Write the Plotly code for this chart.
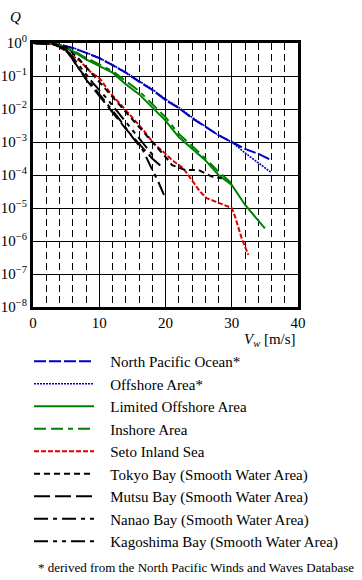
import plotly.graph_objects as go

# wind speed V_w [m/s] and log10(Q)
npo_x = [0, 2, 4, 6, 8, 10, 12, 14, 16, 18, 20, 22, 24, 26, 28, 30, 32, 34, 36]
npo_lq = [0, -0.01, -0.05, -0.15, -0.3, -0.46, -0.67, -0.9, -1.17, -1.42, -1.73, -1.97, -2.28, -2.54, -2.79, -3.0, -3.21, -3.36, -3.55]

off_x = [0, 2, 4, 6, 8, 10, 12, 14, 16, 18, 20, 22, 24, 26, 28, 30, 32, 34, 36]
off_lq = [0, -0.01, -0.05, -0.14, -0.29, -0.45, -0.66, -0.89, -1.15, -1.4, -1.7, -1.95, -2.25, -2.52, -2.8, -3.0, -3.33, -3.63, -3.93]

lim_x = [0, 2, 4, 5, 6, 8, 10, 12, 14, 16, 18, 20, 22, 24, 25, 26, 28, 30, 32, 34, 35]
lim_lq = [0, -0.01, -0.06, -0.15, -0.25, -0.5, -0.7, -0.9, -1.25, -1.55, -1.95, -2.35, -2.85, -3.2, -3.35, -3.55, -4.0, -4.3, -4.9, -5.4, -5.62]

ins_x = [0, 2, 4, 5, 6, 8, 10, 12, 14, 16, 18, 20, 22, 24, 25, 26, 28, 30]
ins_lq = [0, -0.01, -0.06, -0.14, -0.22, -0.45, -0.64, -0.85, -1.15, -1.45, -1.85, -2.25, -2.75, -3.1, -3.3, -3.5, -3.9, -4.25]

seto_x = [0, 3, 4.6, 7.1, 8.6, 10.1, 11.6, 13.1, 14.6, 16.5, 18.2, 19.7, 21, 22.7, 24, 25.2, 26.2, 28.2, 30, 30.5, 31.5, 32.5]
seto_lq = [0, -0.02, -0.2, -0.55, -0.86, -1.08, -1.5, -1.85, -2.17, -2.6, -3.04, -3.3, -3.55, -3.8, -4.15, -4.5, -4.7, -4.86, -5.0, -5.26, -5.92, -6.42]

tokyo_x = [0, 3, 5, 7, 9, 11, 13, 15, 17, 19, 20, 21, 23, 25, 26, 27, 28.5]
tokyo_lq = [0, -0.02, -0.12, -0.5, -0.95, -1.4, -1.85, -2.3, -2.75, -3.2, -3.45, -3.7, -3.85, -3.85, -3.95, -4.05, -4.1]

mutsu_x = [0, 3, 5, 6, 8, 10, 12, 14, 16, 18, 19.7]
mutsu_lq = [0, -0.03, -0.2, -0.5, -1.1, -1.6, -2.1, -2.6, -3.05, -3.5, -3.8]

nanao_x = [0, 3, 5, 7, 9, 11, 13, 15, 16.6, 17.9, 18.9, 19.9]
nanao_lq = [0, -0.03, -0.22, -0.8, -1.3, -1.8, -2.3, -2.85, -3.25, -3.8, -4.2, -4.66]

kago_x = [0, 3, 5, 7, 9, 11, 13, 15, 17, 18.5]
kago_lq = [0, -0.03, -0.18, -0.7, -1.2, -1.65, -2.15, -2.65, -3.15, -3.5]

names = ["North Pacific Ocean*", "Offshore Area*", "Limited Offshore Area", "Inshore Area",
         "Seto Inland Sea", "Tokyo Bay (Smooth Water Area)", "Mutsu Bay (Smooth Water Area)",
         "Nanao Bay (Smooth Water Area)", "Kagoshima Bay (Smooth Water Area)"]

x_ticks = [0, 10, 20, 30, 40]
y_exps = [0, -1, -2, -3, -4, -5, -6, -7, -8]

series = [
    (npo_x, npo_lq, "#0000c0", "12px,3px", 2),
    (off_x, off_lq, "#0000c0", "2px,1px", 1.6),
    (lim_x, lim_lq, "#008000", "solid", 2),
    (ins_x, ins_lq, "#008000", "12px,5px,12px,5px,5px,5px", 2),
    (seto_x, seto_lq, "#e00000", "5px,2px", 2),
    (tokyo_x, tokyo_lq, "#000000", "6px,4px", 2),
    (mutsu_x, mutsu_lq, "#000000", "16px,5px", 2),
    (nanao_x, nanao_lq, "#000000", "14px,5px,4px,5px", 2),
    (kago_x, kago_lq, "#000000", "14px,5px,4px,5px,4px,5px", 2),
]

serif = "Liberation Serif"
pad = "\u00a0\u00a0\u00a0"

fig = go.Figure()
for i, ((xs, lqs, col, dash, w), nm) in enumerate(zip(series, names)):
    fig.add_trace(go.Scatter(
        x=xs, y=[10 ** v for v in lqs], mode="lines", name=pad + nm,
        legendgroup=str(i),
        line=dict(color=col, dash=dash, width=w),
    ))

fig.update_layout(
    width=362, height=580,
    margin=dict(l=33, r=64, t=43, b=273),
    paper_bgcolor="white", plot_bgcolor="white",
    font=dict(family=serif, size=14, color="black"),
    showlegend=True,
    legend=dict(
        x=-0.015, y=-0.144, xanchor="left", yanchor="top",
        font=dict(family=serif, size=15, color="black"),
        itemwidth=60, tracegroupgap=0, bgcolor="rgba(0,0,0,0)",
    ),
    xaxis=dict(
        range=[0, 40], tickvals=x_ticks, ticktext=[str(v) for v in x_ticks],
        showgrid=True, gridcolor="black", gridwidth=1,
        showline=True, linecolor="black", linewidth=3, mirror=True,
        ticks="", zeroline=False, automargin=False,
        tickfont=dict(family=serif, size=15),
        minor=dict(dtick=2, showgrid=True, gridcolor="black", gridwidth=1, griddash="7px,4px"),
    ),
    yaxis=dict(
        type="log", range=[-8, 0],
        tickvals=[10 ** e for e in y_exps],
        ticktext=["10<sup>%s</sup>" % (str(e).replace("-", "\u2212")) for e in y_exps],
        showgrid=True, gridcolor="black", gridwidth=1,
        showline=True, linecolor="black", linewidth=3, mirror=True,
        ticks="", zeroline=False, automargin=False,
        tickfont=dict(family=serif, size=15),
    ),
    annotations=[
        dict(text="<i>Q</i>", xref="paper", yref="paper", x=-0.065, y=1.1,
             xanchor="center", yanchor="middle", showarrow=False,
             font=dict(family=serif, size=15)),
        dict(text="<i>V<sub>w</sub></i> [m/s]", xref="paper", yref="paper", x=1.0, y=-0.125,
             xanchor="right", yanchor="middle", showarrow=False,
             font=dict(family=serif, size=15)),
        dict(text="* derived from the North Pacific Winds and Waves Database", xref="paper", yref="paper",
             x=0.012, y=-0.985, xanchor="left", yanchor="middle", showarrow=False,
             font=dict(family=serif, size=13)),
    ],
)

fig.write_html("out.html", config={"displayModeBar": False},
               post_script="document.body.style.margin='0px';")
